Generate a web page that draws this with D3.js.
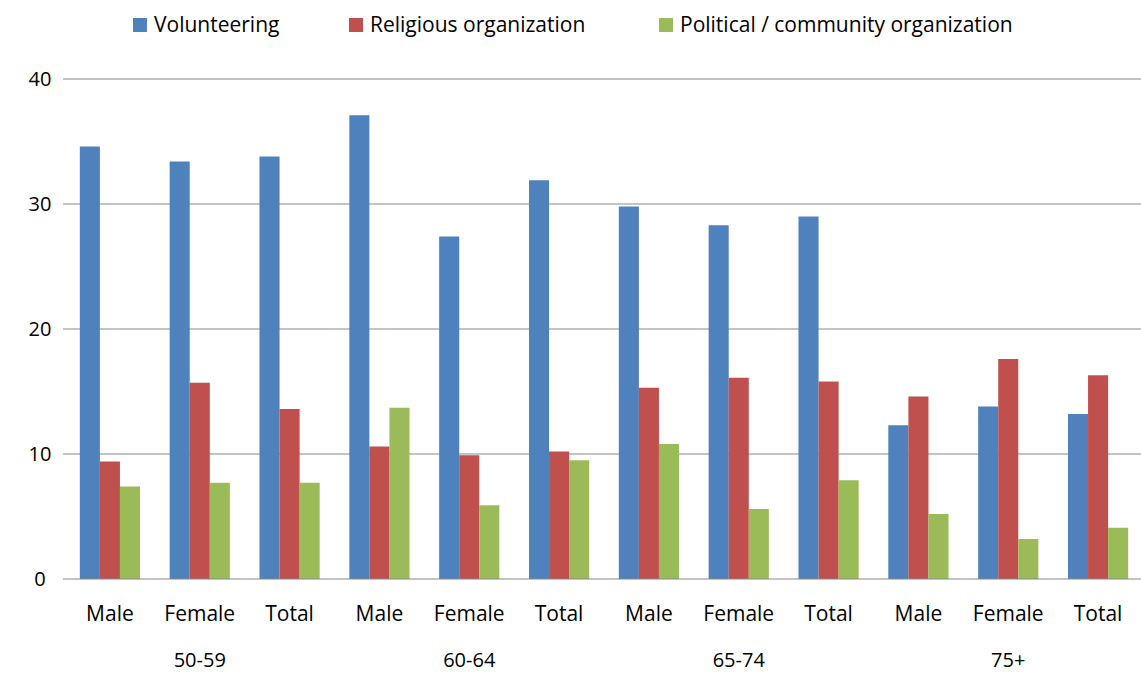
<!DOCTYPE html>
<html><head><meta charset="utf-8">
<script src="https://cdn.jsdelivr.net/npm/d3@7"></script>
<style>body{margin:0;background:#fff}text{font-family:"Open Sans",Arial,sans-serif}</style>
</head><body><svg id="c" width="1141" height="675"></svg>
<script>
const ageGroups=["50-59","60-64","65-74","75+"];
const sexes=["Male","Female","Total"];
const seriesNames=["Volunteering","Religious organization","Political / community organization"];
const colors=["#4F81BD","#C0504D","#9BBB59"];
const volunteering=[34.6,33.4,33.8,37.1,27.4,31.9,29.8,28.3,29.0,12.3,13.8,13.2];
const religious=[9.4,15.7,13.6,10.6,9.9,10.2,15.3,16.1,15.8,14.6,17.6,16.3];
const political=[7.4,7.7,7.7,13.7,5.9,9.5,10.8,5.6,7.9,5.2,3.2,4.1];
const yTicks=[0,10,20,30,40];
const series=[volunteering,religious,political];
const cats=[];ageGroups.forEach(a=>sexes.forEach(s=>cats.push(a+"|"+s)));
const svg=d3.select("#c");
const L=63,R=1141,T=79,B=579;
const x=d3.scaleBand().domain(cats).range([L+2,R+2]).paddingInner(0.33).paddingOuter(0.165);
const y=d3.scaleLinear().domain([0,40]).range([B,T]);
const xs=d3.scaleBand().domain([0,1,2]).range([0,x.bandwidth()]);
svg.append("g").selectAll("line").data(yTicks.slice(1)).join("line")
 .attr("x1",L).attr("x2",R).attr("y1",d=>y(d)).attr("y2",d=>y(d)).attr("stroke","#888").attr("stroke-width",1);
svg.append("g").selectAll("text").data(yTicks).join("text").attr("x",40).attr("y",d=>y(d)+7)
 .attr("text-anchor","middle").attr("font-size",20).text(d=>d);
series.forEach((s,i)=>{
 svg.append("g").selectAll("rect").data(s).join("rect")
  .attr("x",(d,j)=>x(cats[j])+xs(i)).attr("width",xs.bandwidth())
  .attr("y",d=>y(d)).attr("height",d=>y(0)-y(d)).attr("fill",colors[i]);
});
svg.append("line").attr("x1",L).attr("x2",R).attr("y1",B).attr("y2",B).attr("stroke","#888");
svg.append("g").selectAll("text").data(cats).join("text").attr("x",d=>x(d)+x.bandwidth()/2).attr("y",621)
 .attr("text-anchor","middle").attr("font-size",21).text(d=>d.split("|")[1]);
svg.append("g").selectAll("text").data(ageGroups).join("text").attr("x",a=>x(a+"|Female")+x.bandwidth()/2).attr("y",667)
 .attr("text-anchor","middle").attr("font-size",20).text(d=>d);
const lx=[133,349,659];
seriesNames.forEach((n,i)=>{
 svg.append("rect").attr("x",lx[i]).attr("y",18).attr("width",14).attr("height",14).attr("fill",colors[i]);
 svg.append("text").attr("x",lx[i]+21).attr("y",32).attr("font-size",21).text(n);
});
</script></body></html>
